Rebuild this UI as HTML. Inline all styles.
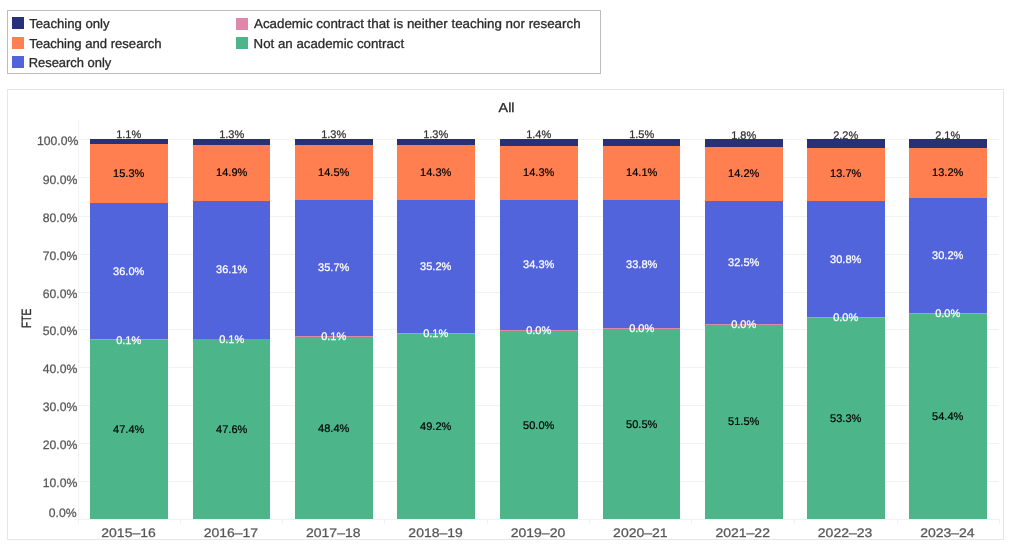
<!DOCTYPE html>
<html lang="en"><head><meta charset="utf-8"><title>FTE by contract type</title>
<style>
html,body{margin:0;padding:0;background:#fff;}
body{width:1019px;height:550px;overflow:hidden;}
svg{display:block;font-family:"Liberation Sans",Arial,sans-serif;}
</style></head><body>
<svg width="1019" height="550" viewBox="0 0 1019 550" shape-rendering="crispEdges" text-rendering="geometricPrecision">
<rect x="7.5" y="10.5" width="593" height="63" fill="#fff" stroke="#bdbdbd" stroke-width="1"/>
<rect x="7.5" y="89.5" width="996" height="450" fill="#fff" stroke="#e6e6e6" stroke-width="1"/>
<rect x="12" y="17" width="12" height="12" fill="#28307a"/>
<rect x="12" y="37" width="12" height="12" fill="#ff7f50"/>
<rect x="12" y="56" width="12" height="12" fill="#5264dc"/>
<rect x="236" y="18" width="12" height="12" fill="#e088ab"/>
<rect x="236" y="37" width="12" height="12" fill="#4cb58a"/>
<text x="29.2" y="27.7" font-size="13" fill="#2a2a2a" stroke="#2a2a2a" stroke-width="0.3" textLength="80.4" lengthAdjust="spacingAndGlyphs">Teaching only</text>
<text x="29.2" y="47.7" font-size="13" fill="#2a2a2a" stroke="#2a2a2a" stroke-width="0.3" textLength="132.4" lengthAdjust="spacingAndGlyphs">Teaching and research</text>
<text x="28.7" y="66.8" font-size="13" fill="#2a2a2a" stroke="#2a2a2a" stroke-width="0.3" textLength="82.6" lengthAdjust="spacingAndGlyphs">Research only</text>
<text x="254" y="27.7" font-size="13" fill="#2a2a2a" stroke="#2a2a2a" stroke-width="0.3" textLength="326.6" lengthAdjust="spacingAndGlyphs">Academic contract that is neither teaching nor research</text>
<text x="253.6" y="47.7" font-size="13" fill="#2a2a2a" stroke="#2a2a2a" stroke-width="0.3" textLength="150.6" lengthAdjust="spacingAndGlyphs">Not an academic contract</text>
<text x="506.55" y="111.6" font-size="13" fill="#2a2a2a" stroke="#2a2a2a" stroke-width="0.3" text-anchor="middle" textLength="15.9" lengthAdjust="spacingAndGlyphs">All</text>
<text transform="translate(30.6,318.4) rotate(-90)" font-size="13.5" fill="#2a2a2a" stroke="#2a2a2a" stroke-width="0.3" text-anchor="middle" textLength="19.4" lengthAdjust="spacingAndGlyphs">FTE</text>
<rect x="78" y="139" width="921" height="1" fill="#f2f2f2"/>
<rect x="78" y="177" width="921" height="1" fill="#f2f2f2"/>
<rect x="78" y="216" width="921" height="1" fill="#f2f2f2"/>
<rect x="78" y="254" width="921" height="1" fill="#f2f2f2"/>
<rect x="78" y="292" width="921" height="1" fill="#f2f2f2"/>
<rect x="78" y="329" width="921" height="1" fill="#f2f2f2"/>
<rect x="78" y="367" width="921" height="1" fill="#f2f2f2"/>
<rect x="78" y="405" width="921" height="1" fill="#f2f2f2"/>
<rect x="78" y="443" width="921" height="1" fill="#f2f2f2"/>
<rect x="78" y="481" width="921" height="1" fill="#f2f2f2"/>
<rect x="78" y="519" width="921" height="1" fill="#f2f2f2"/>
<rect x="78" y="120" width="1" height="404" fill="#f2f2f2"/>
<rect x="74" y="519" width="4" height="1" fill="#f2f2f2"/>
<rect x="999" y="519" width="1" height="5" fill="#f2f2f2"/>
<rect x="180" y="519" width="1" height="5" fill="#f2f2f2"/>
<rect x="282" y="519" width="1" height="5" fill="#f2f2f2"/>
<rect x="384" y="519" width="1" height="5" fill="#f2f2f2"/>
<rect x="487" y="519" width="1" height="5" fill="#f2f2f2"/>
<rect x="589" y="519" width="1" height="5" fill="#f2f2f2"/>
<rect x="691" y="519" width="1" height="5" fill="#f2f2f2"/>
<rect x="794" y="519" width="1" height="5" fill="#f2f2f2"/>
<rect x="897" y="519" width="1" height="5" fill="#f2f2f2"/>
<text x="78.3" y="144.60000000000002" font-size="12.2" fill="#585858" stroke="#585858" stroke-width="0.25" text-anchor="end">100.0%</text>
<text x="77.3" y="183.5" font-size="12.2" fill="#585858" stroke="#585858" stroke-width="0.25" text-anchor="end">90.0%</text>
<text x="77.3" y="221.5" font-size="12.2" fill="#585858" stroke="#585858" stroke-width="0.25" text-anchor="end">80.0%</text>
<text x="77.3" y="259.5" font-size="12.2" fill="#585858" stroke="#585858" stroke-width="0.25" text-anchor="end">70.0%</text>
<text x="77.3" y="297.5" font-size="12.2" fill="#585858" stroke="#585858" stroke-width="0.25" text-anchor="end">60.0%</text>
<text x="77.3" y="334.5" font-size="12.2" fill="#585858" stroke="#585858" stroke-width="0.25" text-anchor="end">50.0%</text>
<text x="77.3" y="372.5" font-size="12.2" fill="#585858" stroke="#585858" stroke-width="0.25" text-anchor="end">40.0%</text>
<text x="77.3" y="410.5" font-size="12.2" fill="#585858" stroke="#585858" stroke-width="0.25" text-anchor="end">30.0%</text>
<text x="77.3" y="448.5" font-size="12.2" fill="#585858" stroke="#585858" stroke-width="0.25" text-anchor="end">20.0%</text>
<text x="77.3" y="486.5" font-size="12.2" fill="#585858" stroke="#585858" stroke-width="0.25" text-anchor="end">10.0%</text>
<text x="76.6" y="516.6999999999999" font-size="12.2" fill="#585858" stroke="#585858" stroke-width="0.25" text-anchor="end">0.0%</text>
<rect x="90" y="139" width="78" height="5" fill="#28307a"/>
<rect x="90" y="144" width="78" height="59" fill="#ff7f50"/>
<rect x="90" y="203" width="78" height="136" fill="#5264dc"/>
<rect x="90" y="339" width="78" height="180" fill="#4cb58a"/>
<rect x="90" y="339" width="78" height="1" fill="#e088ab"/>
<rect x="193" y="139" width="77" height="6" fill="#28307a"/>
<rect x="193" y="145" width="77" height="56" fill="#ff7f50"/>
<rect x="193" y="201" width="77" height="138" fill="#5264dc"/>
<rect x="193" y="339" width="77" height="180" fill="#4cb58a"/>
<rect x="295" y="139" width="78" height="6" fill="#28307a"/>
<rect x="295" y="145" width="78" height="55" fill="#ff7f50"/>
<rect x="295" y="200" width="78" height="136" fill="#5264dc"/>
<rect x="295" y="336" width="78" height="183" fill="#4cb58a"/>
<rect x="295" y="336" width="78" height="1" fill="#e088ab"/>
<rect x="397" y="139" width="78" height="6" fill="#28307a"/>
<rect x="397" y="145" width="78" height="55" fill="#ff7f50"/>
<rect x="397" y="200" width="78" height="133" fill="#5264dc"/>
<rect x="397" y="333" width="78" height="186" fill="#4cb58a"/>
<rect x="397" y="333" width="78" height="1" fill="#e088ab"/>
<rect x="500" y="139" width="78" height="7" fill="#28307a"/>
<rect x="500" y="146" width="78" height="54" fill="#ff7f50"/>
<rect x="500" y="200" width="78" height="130" fill="#5264dc"/>
<rect x="500" y="330" width="78" height="189" fill="#4cb58a"/>
<rect x="500" y="330" width="78" height="1" fill="#e088ab"/>
<rect x="603" y="139" width="77" height="7" fill="#28307a"/>
<rect x="603" y="146" width="77" height="54" fill="#ff7f50"/>
<rect x="603" y="200" width="77" height="128" fill="#5264dc"/>
<rect x="603" y="328" width="77" height="191" fill="#4cb58a"/>
<rect x="603" y="328" width="77" height="1" fill="#e088ab"/>
<rect x="705" y="139" width="78" height="8" fill="#28307a"/>
<rect x="705" y="147" width="78" height="54" fill="#ff7f50"/>
<rect x="705" y="201" width="78" height="123" fill="#5264dc"/>
<rect x="705" y="324" width="78" height="195" fill="#4cb58a"/>
<rect x="705" y="324" width="78" height="1" fill="#e088ab"/>
<rect x="807" y="139" width="78" height="9" fill="#28307a"/>
<rect x="807" y="148" width="78" height="53" fill="#ff7f50"/>
<rect x="807" y="201" width="78" height="116" fill="#5264dc"/>
<rect x="807" y="317" width="78" height="202" fill="#4cb58a"/>
<rect x="807" y="317" width="78" height="1" fill="#e088ab"/>
<rect x="909" y="139" width="78" height="9" fill="#28307a"/>
<rect x="909" y="148" width="78" height="50" fill="#ff7f50"/>
<rect x="909" y="198" width="78" height="115" fill="#5264dc"/>
<rect x="909" y="313" width="78" height="206" fill="#4cb58a"/>
<rect x="909" y="313" width="78" height="1" fill="#e088ab"/>
<text x="128.7" y="138" font-size="11" fill="#333333" stroke="#333333" stroke-width="0.25" text-anchor="middle">1.1%</text>
<text x="128.7" y="176.9" font-size="11" fill="#000000" stroke="#000000" stroke-width="0.2" text-anchor="middle">15.3%</text>
<text x="128.7" y="274.8" font-size="11" fill="#ffffff" stroke="#ffffff" stroke-width="0.25" text-anchor="middle">36.0%</text>
<text x="128.7" y="343.5" font-size="11" fill="#ffffff" stroke="#ffffff" stroke-width="0.25" text-anchor="middle">0.1%</text>
<text x="128.7" y="433" font-size="11" fill="#000000" stroke="#000000" stroke-width="0.2" text-anchor="middle">47.4%</text>
<text x="128.55" y="536.9" font-size="12.4" fill="#585858" stroke="#585858" stroke-width="0.25" text-anchor="middle" textLength="54.5" lengthAdjust="spacingAndGlyphs">2015–16</text>
<text x="231.7" y="138" font-size="11" fill="#333333" stroke="#333333" stroke-width="0.25" text-anchor="middle">1.3%</text>
<text x="231.7" y="176" font-size="11" fill="#000000" stroke="#000000" stroke-width="0.2" text-anchor="middle">14.9%</text>
<text x="231.7" y="272.9" font-size="11" fill="#ffffff" stroke="#ffffff" stroke-width="0.25" text-anchor="middle">36.1%</text>
<text x="231.7" y="342.5" font-size="11" fill="#ffffff" stroke="#ffffff" stroke-width="0.25" text-anchor="middle">0.1%</text>
<text x="231.7" y="433" font-size="11" fill="#000000" stroke="#000000" stroke-width="0.2" text-anchor="middle">47.6%</text>
<text x="230.91000000000003" y="536.9" font-size="12.4" fill="#585858" stroke="#585858" stroke-width="0.25" text-anchor="middle" textLength="54.5" lengthAdjust="spacingAndGlyphs">2016–17</text>
<text x="333.7" y="138" font-size="11" fill="#333333" stroke="#333333" stroke-width="0.25" text-anchor="middle">1.3%</text>
<text x="333.7" y="176" font-size="11" fill="#000000" stroke="#000000" stroke-width="0.2" text-anchor="middle">14.5%</text>
<text x="333.7" y="271.1" font-size="11" fill="#ffffff" stroke="#ffffff" stroke-width="0.25" text-anchor="middle">35.7%</text>
<text x="333.7" y="339.9" font-size="11" fill="#ffffff" stroke="#ffffff" stroke-width="0.25" text-anchor="middle">0.1%</text>
<text x="333.7" y="432" font-size="11" fill="#000000" stroke="#000000" stroke-width="0.2" text-anchor="middle">48.4%</text>
<text x="333.27" y="536.9" font-size="12.4" fill="#585858" stroke="#585858" stroke-width="0.25" text-anchor="middle" textLength="54.5" lengthAdjust="spacingAndGlyphs">2017–18</text>
<text x="435.7" y="138" font-size="11" fill="#333333" stroke="#333333" stroke-width="0.25" text-anchor="middle">1.3%</text>
<text x="435.7" y="176" font-size="11" fill="#000000" stroke="#000000" stroke-width="0.2" text-anchor="middle">14.3%</text>
<text x="435.7" y="270" font-size="11" fill="#ffffff" stroke="#ffffff" stroke-width="0.25" text-anchor="middle">35.2%</text>
<text x="435.7" y="336.9" font-size="11" fill="#ffffff" stroke="#ffffff" stroke-width="0.25" text-anchor="middle">0.1%</text>
<text x="435.7" y="430" font-size="11" fill="#000000" stroke="#000000" stroke-width="0.2" text-anchor="middle">49.2%</text>
<text x="435.63" y="536.9" font-size="12.4" fill="#585858" stroke="#585858" stroke-width="0.25" text-anchor="middle" textLength="54.5" lengthAdjust="spacingAndGlyphs">2018–19</text>
<text x="538.7" y="138" font-size="11" fill="#333333" stroke="#333333" stroke-width="0.25" text-anchor="middle">1.4%</text>
<text x="538.7" y="176" font-size="11" fill="#000000" stroke="#000000" stroke-width="0.2" text-anchor="middle">14.3%</text>
<text x="538.7" y="267.9" font-size="11" fill="#ffffff" stroke="#ffffff" stroke-width="0.25" text-anchor="middle">34.3%</text>
<text x="538.7" y="333.9" font-size="11" fill="#ffffff" stroke="#ffffff" stroke-width="0.25" text-anchor="middle">0.0%</text>
<text x="538.7" y="429" font-size="11" fill="#000000" stroke="#000000" stroke-width="0.2" text-anchor="middle">50.0%</text>
<text x="537.99" y="536.9" font-size="12.4" fill="#585858" stroke="#585858" stroke-width="0.25" text-anchor="middle" textLength="54.5" lengthAdjust="spacingAndGlyphs">2019–20</text>
<text x="641.7" y="138" font-size="11" fill="#333333" stroke="#333333" stroke-width="0.25" text-anchor="middle">1.5%</text>
<text x="641.7" y="176" font-size="11" fill="#000000" stroke="#000000" stroke-width="0.2" text-anchor="middle">14.1%</text>
<text x="641.7" y="267.8" font-size="11" fill="#ffffff" stroke="#ffffff" stroke-width="0.25" text-anchor="middle">33.8%</text>
<text x="641.7" y="331.9" font-size="11" fill="#ffffff" stroke="#ffffff" stroke-width="0.25" text-anchor="middle">0.0%</text>
<text x="641.7" y="428.4" font-size="11" fill="#000000" stroke="#000000" stroke-width="0.2" text-anchor="middle">50.5%</text>
<text x="640.35" y="536.9" font-size="12.4" fill="#585858" stroke="#585858" stroke-width="0.25" text-anchor="middle" textLength="54.5" lengthAdjust="spacingAndGlyphs">2020–21</text>
<text x="743.7" y="138.9" font-size="11" fill="#333333" stroke="#333333" stroke-width="0.25" text-anchor="middle">1.8%</text>
<text x="743.7" y="177" font-size="11" fill="#000000" stroke="#000000" stroke-width="0.2" text-anchor="middle">14.2%</text>
<text x="743.7" y="266.2" font-size="11" fill="#ffffff" stroke="#ffffff" stroke-width="0.25" text-anchor="middle">32.5%</text>
<text x="743.7" y="327.9" font-size="11" fill="#ffffff" stroke="#ffffff" stroke-width="0.25" text-anchor="middle">0.0%</text>
<text x="743.7" y="425.2" font-size="11" fill="#000000" stroke="#000000" stroke-width="0.2" text-anchor="middle">51.5%</text>
<text x="742.71" y="536.9" font-size="12.4" fill="#585858" stroke="#585858" stroke-width="0.25" text-anchor="middle" textLength="54.5" lengthAdjust="spacingAndGlyphs">2021–22</text>
<text x="845.7" y="139.3" font-size="11" fill="#333333" stroke="#333333" stroke-width="0.25" text-anchor="middle">2.2%</text>
<text x="845.7" y="177" font-size="11" fill="#000000" stroke="#000000" stroke-width="0.2" text-anchor="middle">13.7%</text>
<text x="845.7" y="263" font-size="11" fill="#ffffff" stroke="#ffffff" stroke-width="0.25" text-anchor="middle">30.8%</text>
<text x="845.7" y="320.9" font-size="11" fill="#ffffff" stroke="#ffffff" stroke-width="0.25" text-anchor="middle">0.0%</text>
<text x="845.7" y="422" font-size="11" fill="#000000" stroke="#000000" stroke-width="0.2" text-anchor="middle">53.3%</text>
<text x="845.0699999999999" y="536.9" font-size="12.4" fill="#585858" stroke="#585858" stroke-width="0.25" text-anchor="middle" textLength="54.5" lengthAdjust="spacingAndGlyphs">2022–23</text>
<text x="947.7" y="139.3" font-size="11" fill="#333333" stroke="#333333" stroke-width="0.25" text-anchor="middle">2.1%</text>
<text x="947.7" y="176" font-size="11" fill="#000000" stroke="#000000" stroke-width="0.2" text-anchor="middle">13.2%</text>
<text x="947.7" y="258.9" font-size="11" fill="#ffffff" stroke="#ffffff" stroke-width="0.25" text-anchor="middle">30.2%</text>
<text x="947.7" y="316.9" font-size="11" fill="#ffffff" stroke="#ffffff" stroke-width="0.25" text-anchor="middle">0.0%</text>
<text x="947.7" y="420" font-size="11" fill="#000000" stroke="#000000" stroke-width="0.2" text-anchor="middle">54.4%</text>
<text x="947.4300000000001" y="536.9" font-size="12.4" fill="#585858" stroke="#585858" stroke-width="0.25" text-anchor="middle" textLength="54.5" lengthAdjust="spacingAndGlyphs">2023–24</text>
</svg>
</body></html>
